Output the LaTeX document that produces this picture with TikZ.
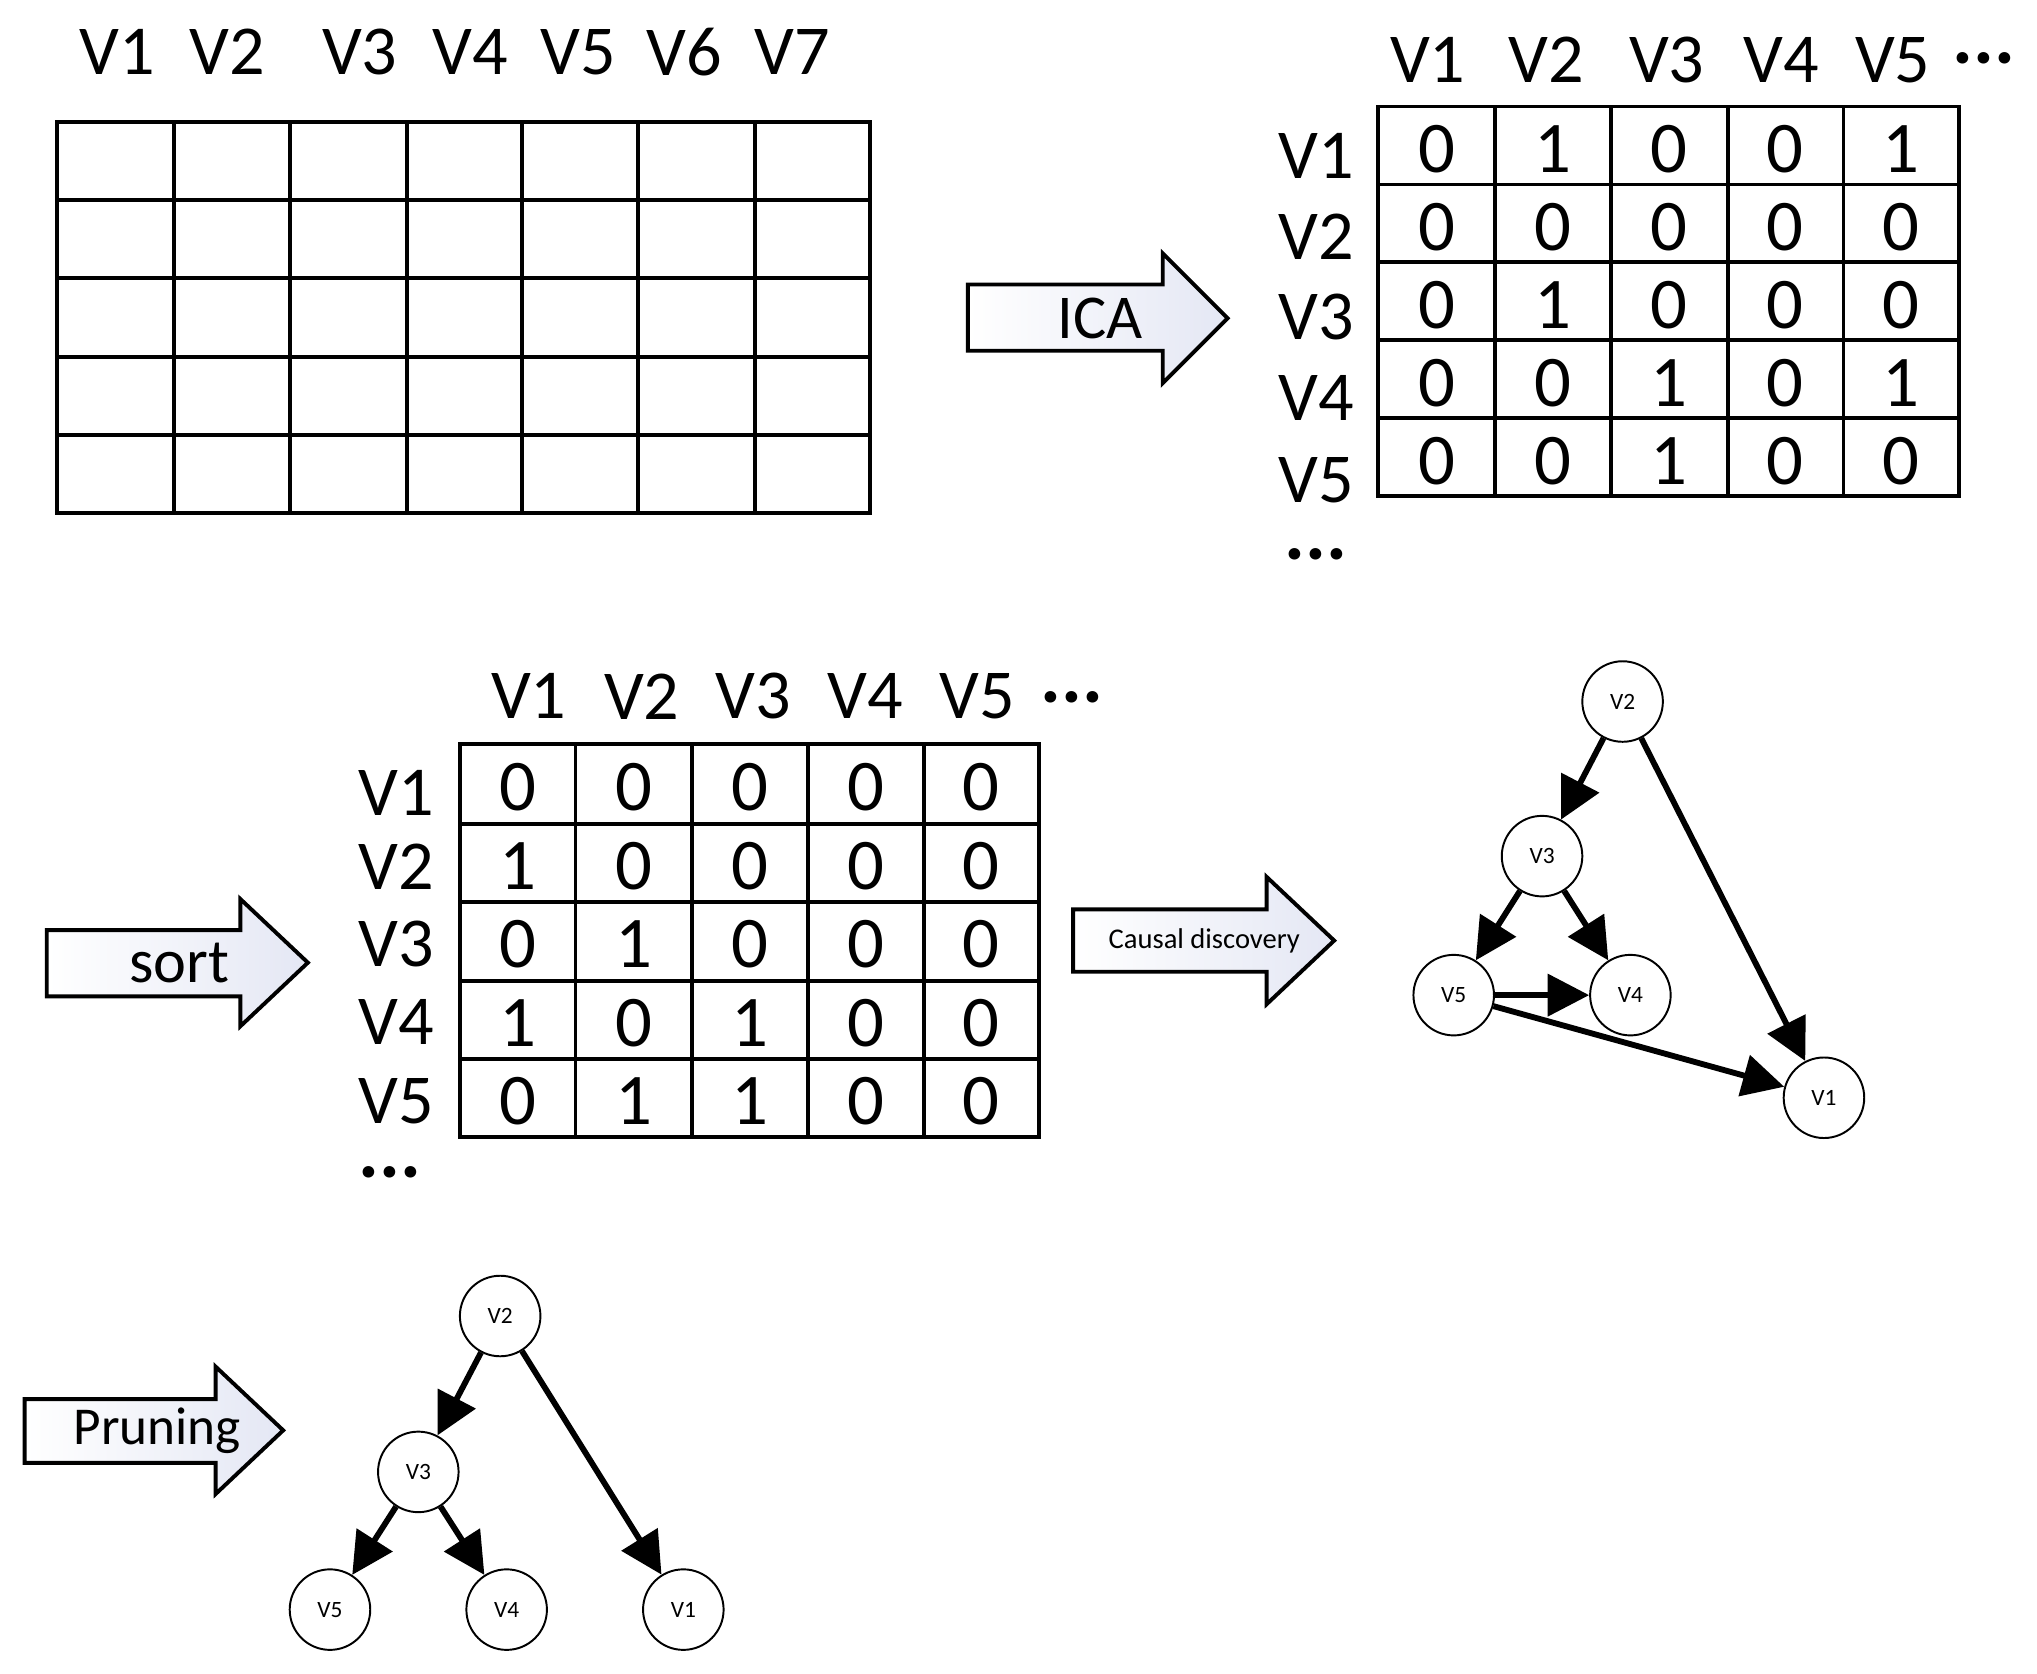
\documentclass[tikz,border=0pt]{standalone}
\usepackage{fontspec}
\setmainfont{Carlito}
\usetikzlibrary{arrows.meta}
\definecolor{arrowfill}{RGB}{228,231,244}
\tikzset{
 big/.style={font=\fontsize{54}{60}\selectfont, inner sep=0pt},
 dots/.style={font=\fontsize{60}{60}\selectfont\bfseries, inner sep=0pt},
 digit/.style={font=\fontsize{56}{60}\selectfont, inner sep=0pt},
 gridline/.style={line width=3pt},
 blockarrow/.style={draw, line width=3pt, line join=miter, left color=white, right color=arrowfill},
 arrowtext/.style={font=\fontsize{48}{54}\selectfont, inner sep=0pt},
 smalltext/.style={font=\fontsize{22}{26}\selectfont, inner sep=0pt},
 gnode/.style={circle, draw, line width=1.5pt, minimum size=62pt, inner sep=0pt, font=\fontsize{18}{20}\selectfont, fill=white},
 edge/.style={line width=4.5pt, -{Triangle[length=32pt,width=32pt]}},
}
\begin{document}
\begin{tikzpicture}[x=1pt,y=-1pt]
\useasboundingbox (0,0) rectangle (1568,1288);

% ---------- top-left data grid ----------
\draw[gridline] (44,94) rectangle (670,395);
\foreach \x in {134,223,313,402,491,581} \draw[gridline] (\x,94) -- (\x,395);
\foreach \y in {154,214,275,335} \draw[gridline] (44,\y) -- (670,\y);
\foreach \t/\x in {V1/90,V2/175,V3/277,V4/362,V5/445,V6/527,V7/610}
  \node[big] (top\t) at (\x,40) {\t};

% ---------- ICA arrow ----------
\path[blockarrow] (745,219) -- (895,219) -- (895,195) -- (945,245) -- (895,295) -- (895,270) -- (745,270) -- cycle;
\node[arrowtext] (ica) at (847,245) {ICA};

% ---------- matrix 1 ----------
\draw[gridline] (1061,82) rectangle (1508,382);
\foreach \x in {1151,1240,1330,1419} \draw[gridline] (\x,82) -- (\x,382);
\foreach \y in {142,202,262,322} \draw[gridline] (1061,\y) -- (1508,\y);
\foreach \t/\x in {V1/1099,V2/1190,V3/1283,V4/1371,V5/1457}
  \node[big] (mah\t) at (\x,46) {\t};
\node[dots] (mahdots) at (1527,45) {...};
\foreach \t/\y in {V1/120,V2/182,V3/244,V4/306,V5/370}
  \node[big] (mar\t) at (1013,\y) {\t};
\node[dots] (mardots) at (1013,427) {...};
\foreach \r/\vals in {1/{0,1,0,0,1},2/{0,0,0,0,0},3/{0,1,0,0,0},4/{0,0,1,0,1},5/{0,0,1,0,0}}
  \foreach \v [count=\c] in \vals
    \node[digit] (ma-\r-\c) at ({1061+(\c-0.5)*89.4},{82+(\r-0.5)*60+3}) {\v};

% ---------- sort arrow ----------
\path[blockarrow] (36,716) -- (185,716) -- (185,692) -- (237,741) -- (185,790) -- (185,767) -- (36,767) -- cycle;
\node[arrowtext] (sort) at (138,741) {sort};

% ---------- matrix 2 ----------
\draw[gridline] (354,573) rectangle (800,875);
\foreach \x in {443,533,622,711} \draw[gridline] (\x,573) -- (\x,875);
\foreach \y in {634,694,755,815} \draw[gridline] (354,\y) -- (800,\y);
\foreach \t/\x in {V1/407,V2/494,V3/580,V4/666,V5/752}
  \node[big] (mbh\t) at (\x,536) {\t};
\node[dots] (mbhdots) at (825,537) {...};
\foreach \t/\y in {V1/610,V2/667,V3/727,V4/787,V5/848}
  \node[big] (mbr\t) at (305,\y) {\t};
\node[dots] (mbrdots) at (300,902) {...};
\foreach \r/\vals in {1/{0,0,0,0,0},2/{1,0,0,0,0},3/{0,1,0,0,0},4/{1,0,1,0,0},5/{0,1,1,0,0}}
  \foreach \v [count=\c] in \vals
    \node[digit] (mb-\r-\c) at ({354+(\c-0.5)*89.2},{573+(\r-0.5)*60.4+3}) {\v};

% ---------- causal discovery arrow ----------
\path[blockarrow] (826,700) -- (975,700) -- (975,675) -- (1027,724) -- (975,773) -- (975,748) -- (826,748) -- cycle;
\node[smalltext] (cd) at (927,724) {Causal discovery};

% ---------- graph 1 ----------
\node[gnode] (a2) at (1249,540) {V2};
\node[gnode] (a3) at (1187,659) {V3};
\node[gnode] (a5) at (1119,766) {V5};
\node[gnode] (a4) at (1255,766) {V4};
\node[gnode] (a1) at (1404,845) {V1};
\draw[edge] (a2) -- (a3);
\draw[edge] (a2) -- (a1);
\draw[edge] (a3) -- (a5);
\draw[edge] (a3) -- (a4);
\draw[edge] (a5) -- (a4);
\draw[edge] (a5) -- (a1);

% ---------- pruning arrow ----------
\path[blockarrow] (19,1077) -- (166,1077) -- (166,1052) -- (218,1101) -- (166,1150) -- (166,1126) -- (19,1126) -- cycle;
\node[arrowtext, font=\fontsize{41}{46}\selectfont] (prune) at (121,1101) {Pruning};

% ---------- graph 2 ----------
\node[gnode] (b2) at (385,1013) {V2};
\node[gnode] (b3) at (322,1133) {V3};
\node[gnode] (b5) at (254,1239) {V5};
\node[gnode] (b4) at (390,1239) {V4};
\node[gnode] (b1) at (526,1239) {V1};
\draw[edge] (b2) -- (b3);
\draw[edge] (b2) -- (b1);
\draw[edge] (b3) -- (b5);
\draw[edge] (b3) -- (b4);
\end{tikzpicture}
\end{document}
